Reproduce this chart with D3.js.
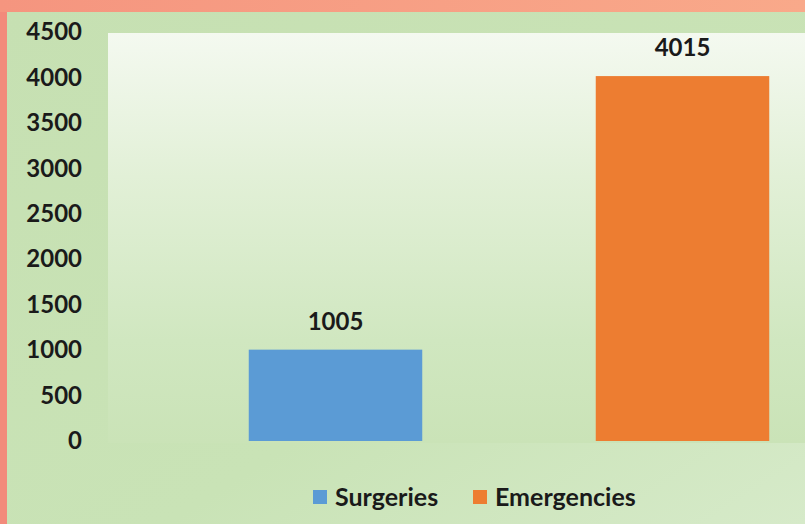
<!DOCTYPE html>
<html>
<head>
<meta charset="utf-8">
<script src="https://cdn.jsdelivr.net/npm/d3@7"></script>
<style>
  body { margin: 0; padding: 0; }
  svg { display: block; }
</style>
</head>
<body>
<svg id="drawing_region"></svg>
<script>
// chart values
const categories = ['Surgeries', 'Emergencies'];
const values = [1005, 4015];
const colors = ['#5b9bd5', '#ed7d31'];
const yticks = [0, 500, 1000, 1500, 2000, 2500, 3000, 3500, 4000, 4500];

const width = 805, height = 524;
const font = 'Lato, "Open Sans", sans-serif';

const svg = d3.select('#drawing_region')
    .attr('width', width)
    .attr('height', height);

const defs = svg.append('defs');

let g1 = defs.append('linearGradient').attr('id', 'salmon')
    .attr('x1', 0).attr('x2', 1).attr('y1', 0).attr('y2', 0);
g1.append('stop').attr('offset', 0).attr('stop-color', '#f5957f');
g1.append('stop').attr('offset', 1).attr('stop-color', '#f9a98a');

let g2 = defs.append('linearGradient').attr('id', 'outer')
    .attr('x1', 0).attr('x2', 1).attr('y1', 0).attr('y2', 1);
g2.append('stop').attr('offset', 0).attr('stop-color', '#c6e0b2');
g2.append('stop').attr('offset', 0.6).attr('stop-color', '#c9e3b6');
g2.append('stop').attr('offset', 1).attr('stop-color', '#d6eac9');

let g3 = defs.append('linearGradient').attr('id', 'plotbg')
    .attr('x1', 0).attr('x2', 0).attr('y1', 0).attr('y2', 1);
g3.append('stop').attr('offset', 0).attr('stop-color', '#f4f9f0');
g3.append('stop').attr('offset', 0.35).attr('stop-color', '#e2f0d7');
g3.append('stop').attr('offset', 0.75).attr('stop-color', '#d0e7c0');
g3.append('stop').attr('offset', 1).attr('stop-color', '#cae3b7');

// background
svg.append('rect').attr('width', width).attr('height', height).attr('fill', 'url(#salmon)');
svg.append('rect').attr('x', 0).attr('y', 12).attr('width', 7).attr('height', height - 12).attr('fill', '#f28b7b');
svg.append('rect').attr('x', 7).attr('y', 12).attr('width', width - 7).attr('height', height - 12).attr('fill', 'url(#outer)');

// scales
const xscale = d3.scaleBand()
    .domain(categories)
    .range([162, 856])
    .paddingInner(0.5)
    .paddingOuter(0.25);

const yscale = d3.scaleLinear()
    .domain([0, 4500])
    .range([441, 32]);

// plot area
svg.append('rect')
    .attr('x', 108).attr('y', 33)
    .attr('width', width - 108).attr('height', 410)
    .attr('fill', 'url(#plotbg)');

// y axis
const yaxis = d3.axisLeft(yscale)
    .tickValues(yticks)
    .tickFormat(d3.format('d'))
    .tickSize(0)
    .tickPadding(0);

const yaxis_group = svg.append('g')
    .attr('transform', 'translate(82,0)')
    .call(yaxis);
yaxis_group.select('.domain').remove();
yaxis_group.selectAll('text')
    .attr('font-family', font)
    .attr('font-weight', 'bold')
    .attr('font-size', 24)
    .attr('fill', '#1a1a1a');

// bars
svg.selectAll('.bar')
    .data(categories)
    .join('rect')
    .attr('class', 'bar')
    .attr('x', d => xscale(d))
    .attr('width', xscale.bandwidth())
    .attr('y', (d, i) => yscale(values[i]))
    .attr('height', (d, i) => yscale(0) - yscale(values[i]))
    .attr('fill', (d, i) => colors[i]);

// value labels
svg.selectAll('.lbl')
    .data(categories)
    .join('text')
    .attr('class', 'lbl')
    .attr('x', d => xscale(d) + xscale.bandwidth() / 2)
    .attr('y', (d, i) => yscale(values[i]) - 28)
    .attr('dy', '0.35em')
    .attr('text-anchor', 'middle')
    .attr('font-family', font)
    .attr('font-weight', 'bold')
    .attr('font-size', 24)
    .attr('fill', '#1a1a1a')
    .text((d, i) => values[i]);

// legend
const legendX = [313, 473];
const legend = svg.selectAll('.legend')
    .data(categories)
    .join('g')
    .attr('class', 'legend')
    .attr('transform', (d, i) => `translate(${legendX[i]}, 497)`);

legend.append('rect')
    .attr('x', 0).attr('y', -7)
    .attr('width', 14).attr('height', 14)
    .attr('fill', (d, i) => colors[i]);

legend.append('text')
    .attr('x', 22)
    .attr('dy', '0.35em')
    .attr('font-family', font)
    .attr('font-weight', 'bold')
    .attr('font-size', 25)
    .attr('fill', '#1a1a1a')
    .text(d => d);
</script>
</body>
</html>
